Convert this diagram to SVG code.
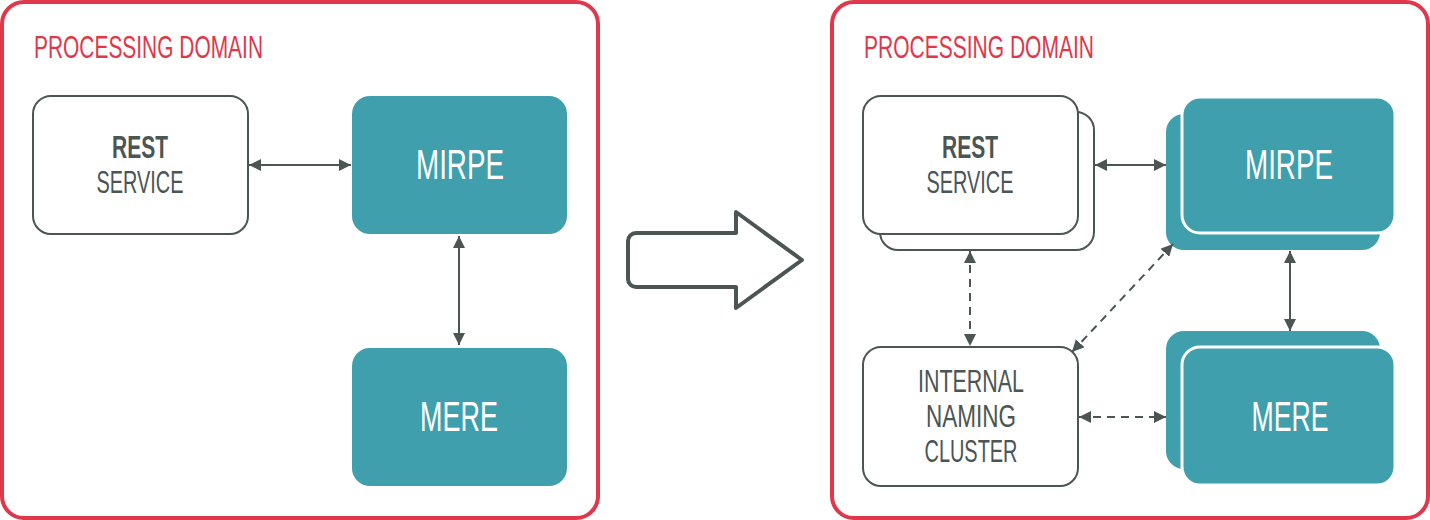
<svg xmlns="http://www.w3.org/2000/svg" width="1430" height="520" viewBox="0 0 1430 520">
<style>
.domain{fill:#fff;stroke:#e0374b;stroke-width:4}
.title{font-family:"Liberation Sans Narrow","Liberation Sans",sans-serif;font-size:32px;fill:#e0374b}
.wbox{fill:#fff;stroke:#4b5553;stroke-width:2}
.tbox{fill:#3f9fac}
.tfront{fill:#3f9fac;stroke:#fff;stroke-width:3}
.lbl{font-family:"Liberation Sans Narrow","Liberation Sans",sans-serif;font-size:32px;fill:#4b5553;text-anchor:middle}
.bold{font-weight:bold}
.wlbl{font-family:"Liberation Sans Narrow","Liberation Sans",sans-serif;font-size:42px;fill:#fff;text-anchor:middle}
.conn{stroke:#4b5553;stroke-width:2;fill:none;marker-start:url(#ah);marker-end:url(#ah)}
.dash{stroke-dasharray:8 6}
.big{fill:#fff;stroke:#4b5553;stroke-width:4;stroke-linejoin:round}
</style>
<defs>
<marker id="ah" viewBox="0 0 12 12" refX="12" refY="6" markerWidth="12" markerHeight="12" markerUnits="userSpaceOnUse" orient="auto-start-reverse">
<path d="M0,0 L12,6 L0,12 z" fill="#4b5553"/>
</marker>
</defs>

<g id="domain-left">
<rect class="domain" x="2" y="2" width="596" height="516" rx="22"/>
<text class="title" x="34" y="58" textLength="229" lengthAdjust="spacingAndGlyphs">PROCESSING DOMAIN</text>
</g>
<g id="domain-right">
<rect class="domain" x="832" y="2" width="596" height="516" rx="22"/>
<text class="title" x="864" y="58" textLength="230" lengthAdjust="spacingAndGlyphs">PROCESSING DOMAIN</text>
</g>

<g id="rest-left">
<rect class="wbox" x="33" y="96" width="215" height="138" rx="18"/>
<text class="lbl bold" x="140" y="158" textLength="56" lengthAdjust="spacingAndGlyphs">REST</text>
<text class="lbl" x="140" y="193" textLength="87" lengthAdjust="spacingAndGlyphs">SERVICE</text>
</g>
<g id="mirpe-left">
<rect class="tbox" x="352" y="96" width="215" height="138" rx="18"/>
<text class="wlbl" x="460" y="179" textLength="88" lengthAdjust="spacingAndGlyphs">MIRPE</text>
</g>
<g id="mere-left">
<rect class="tbox" x="352" y="348" width="215" height="138" rx="18"/>
<text class="wlbl" x="459" y="431" textLength="78" lengthAdjust="spacingAndGlyphs">MERE</text>
</g>

<g id="transition-arrow">
<path class="big" d="M636,233 H736 V212 L802,260 L736,308 V287 H636 A8,8 0 0 1 628,279 V241 A8,8 0 0 1 636,233 Z"/>
</g>

<g id="rest-right">
<rect class="wbox" x="880" y="112" width="214" height="138" rx="18"/>
<rect class="wbox" x="863" y="96" width="215" height="138" rx="18"/>
<text class="lbl bold" x="970" y="158" textLength="56" lengthAdjust="spacingAndGlyphs">REST</text>
<text class="lbl" x="970" y="193" textLength="87" lengthAdjust="spacingAndGlyphs">SERVICE</text>
</g>
<g id="mirpe-right">
<rect class="tbox" x="1166" y="114" width="214" height="136" rx="18"/>
<rect class="tfront" x="1182" y="97" width="213" height="136" rx="18"/>
<text class="wlbl" x="1289" y="179" textLength="88" lengthAdjust="spacingAndGlyphs">MIRPE</text>
</g>
<g id="mere-right">
<rect class="tbox" x="1166" y="331" width="214" height="138" rx="18"/>
<rect class="tfront" x="1182" y="347" width="213" height="138" rx="18"/>
<text class="wlbl" x="1290" y="431" textLength="77" lengthAdjust="spacingAndGlyphs">MERE</text>
</g>
<g id="internal-naming-cluster">
<rect class="wbox" x="863" y="347" width="215" height="139" rx="18"/>
<text class="lbl" x="971" y="392" textLength="106" lengthAdjust="spacingAndGlyphs">INTERNAL</text>
<text class="lbl" x="971" y="427" textLength="90" lengthAdjust="spacingAndGlyphs">NAMING</text>
<text class="lbl" x="971" y="462" textLength="93" lengthAdjust="spacingAndGlyphs">CLUSTER</text>
</g>

<g id="connectors">
<line class="conn" x1="249" y1="165" x2="351" y2="165"/>
<line class="conn" x1="459" y1="236" x2="459" y2="345"/>
<line class="conn" x1="1095" y1="165" x2="1166" y2="165"/>
<line class="conn" x1="1290" y1="251" x2="1290" y2="331"/>
<line class="conn dash" x1="970" y1="251" x2="970" y2="346"/>
<line class="conn dash" x1="1072" y1="352" x2="1173" y2="244"/>
<line class="conn dash" x1="1079" y1="417" x2="1166" y2="417"/>
</g>
</svg>
